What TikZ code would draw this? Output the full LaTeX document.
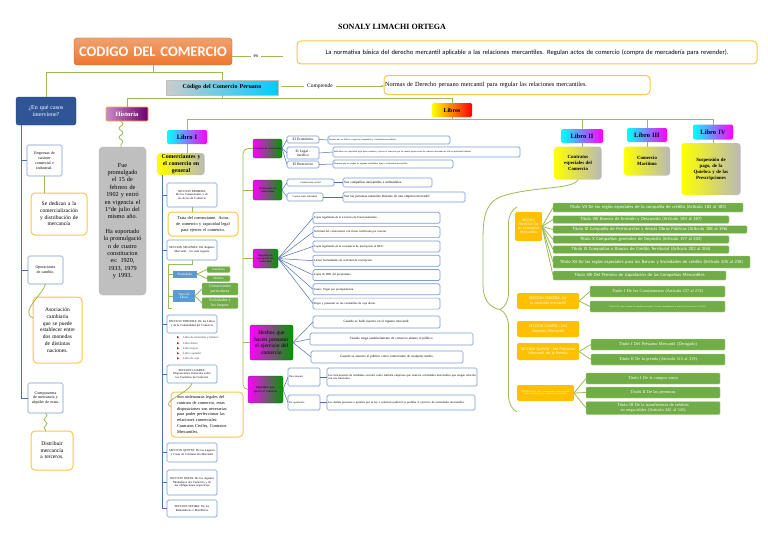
\documentclass[tikz,border=0pt]{standalone}
\usepackage{fontspec}
\setmainfont{Liberation Serif}
\newfontfamily\calib{Carlito}
\newfontfamily\symf{DejaVu Sans}
\usepackage{tikz}
\usetikzlibrary{arrows.meta,positioning,calc,decorations.pathmorphing,decorations.pathreplacing}

\definecolor{gline}{HTML}{9BBB59}
\definecolor{bline}{HTML}{4F6FB0}
\definecolor{bbord}{HTML}{7F9BD0}
\definecolor{ybord}{HTML}{F7C948}
\definecolor{gfill}{HTML}{70AD47}
\definecolor{ofill}{HTML}{FFC000}
\definecolor{bfill}{HTML}{5B9BD5}
\definecolor{navy}{HTML}{2F5597}
\definecolor{ccorg}{HTML}{EC7730}
\definecolor{bulred}{HTML}{C00000}
\definecolor{gbox}{HTML}{BFBFBF}

\newcommand\fz[2]{\fontsize{#1}{#2}\selectfont}
\hyphenpenalty=10000
\exhyphenpenalty=10000

\begin{document}
\begin{tikzpicture}[x=1pt,y=-1pt,>=Stealth,
  every node/.style={inner sep=1pt,outer sep=0pt,align=center},
  sz/.style 2 args={minimum width=#1,minimum height=#2,text width=\dimexpr#1 pt-2pt\relax},
  gl/.style={draw=gline,line width=0.8pt},
  bl/.style={draw=bline,line width=0.5pt},
  bbox/.style={draw=bbord,line width=0.7pt,rounded corners=1.5pt,fill=white,font=\fz{3}{3.6}},
  ybox/.style={draw=ybord,line width=1pt,rounded corners=4pt,fill=white},
  gbx/.style={fill=gfill,draw=gfill!60!white,line width=0.4pt,rounded corners=1pt,text=white,font=\calib\fz{4.6}{5.2}},
  obx/.style={fill=ofill,rounded corners=1.5pt,text=white,font=\calib\fz{3.6}{4.2}},
  mbx/.style={left color=magenta,middle color=white,right color=green!60!black,draw=green!40!black,line width=0.3pt,rounded corners=2pt,font=\fz{2.6}{3}},
  lbx/.style={left color=cyan,middle color=magenta!25,right color=magenta,rounded corners=1.5pt,font=\bfseries\fz{6.5}{7.5}},
  ygx/.style={left color=yellow,middle color=white!70!yellow,right color=gray!55,rounded corners=3pt,font=\bfseries\fz{5}{6}}]
  \path[use as bounding box,fill=white] (0,0) rectangle (768,543);

  \node[font=\bfseries\fz{8}{9}] (autor) at (392,27) {SONALY LIMACHI ORTEGA};
  \node[sz={158}{27},top color=ccorg!70!white,bottom color=ccorg,draw=ccorg!80!black,line width=0.3pt,rounded corners=3pt,text=white,font=\calib\bfseries\fz{14.5}{16}] (cc) at (153,51.5) {CODIGO DEL COMERCIO};
  \node[inner sep=3pt,font=\fz{5.5}{6.5}] (es) at (256,56) {es};
  \node[ybox,sz={460}{23},font=\calib\fz{6.5}{7.5}] (nb) at (527,52.5) {La normativa básica del derecho mercantil aplicable a las relaciones mercantiles. Regulan actos de comercio (compra de mercadería para revender).};
  \draw[gl] (cc.east |- es) -- (es);
  \draw[gl,shorten >=14pt] (es) -- (nb.west |- es);

  \node[sz={112}{15},left color=gray!40,middle color=white,right color=cyan!80!blue,draw=gray!50,line width=0.3pt,font=\bfseries\fz{6}{7}] (cp) at (222,87.5) {Código del Comercio Peruano};
  \node[inner sep=3pt,font=\fz{5.5}{6.5}] (comp) at (320,86) {Comprende};
  \node[ybox,sz={266}{19},font=\fz{6.3}{7.5},align=left] (nr) at (517,85) {Normas de Derecho peruano mercantil para regular las relaciones mercantiles.};
  \draw[gl,shorten <=3pt] (cp.east |- comp) -- (comp);
  \draw[gl,-{Stealth[length=3pt]}] (comp) -- (nr.west |- comp);

  \node[sz={60}{28},fill=navy,draw=navy!80!black,rounded corners=2.5pt,text=white,font=\fz{6}{7}] (eq) at (46,111) {¿En qué casos\\ interviene?};
  \draw[gl] (cc.south) -- ++(0,7) coordinate (cj) -| (cp.north);
  \draw[gl] (cj) -| (eq.north);

  \node[bbox,sz={35}{31},font=\fz{4}{4.8}] (em) at (44.5,160.5) {Empresas de\\ carácter\\ comercial e\\ industrial.};
  \node[ybox,sz={56}{42},font=\fz{5.5}{6.6}] (sd) at (59,214) {Se dedican a la\\ comercialización\\ y distribución de\\ mercancía};
  \node[bbox,sz={35}{28},font=\fz{4}{4.8}] (op) at (45.5,270) {Operaciones\\ de cambio.};
  \node[ybox,sz={49}{66},text width=38pt,font=\fz{5.5}{6.8}] (as) at (57.5,330) {Asociación cambiaria que se puede establecer entre dos monedas de distintas naciones.};
  \node[bbox,sz={35}{30},font=\fz{4}{4.8}] (cv) at (45.5,398) {Compraventa de mercancía y alquiler de estas.};
  \node[ybox,sz={42}{39},font=\fz{5.5}{6.6}] (di) at (52,450.5) {Distribuir\\ mercancía\\ a terceros.};
  \coordinate (ev) at ([xshift=-25pt]eq.south);
  \draw[bl,line width=0.9pt] (ev) |- (cv.west);
  \draw[bl,line width=0.9pt] (ev |- em.west) -- (em.west);
  \draw[bl,line width=0.9pt] (ev |- op.west) -- (op.west);
  \draw[gl] (em.south) -- (em.south |- sd.north);
  \draw[gl] (op.south) .. controls +(-2,10) and +(-14,-6) .. ([yshift=12pt]as.west);
  \draw[gl,decorate,decoration={snake,amplitude=1.5pt,segment length=8pt}] (cv.south) -- (cv.south |- di.north);

  \node[sz={42}{14},left color=violet!45,right color=violet!85!black,draw=orange!70,line width=0.6pt,rounded corners=1pt,text=white,font=\bfseries\fz{6.5}{7.5}] (hi) at (127,114) {Historia};
  \node[sz={40}{14},left color=yellow,middle color=orange!40!yellow,right color=red,rounded corners=1.5pt,font=\bfseries\fz{6}{7}] (lb) at (452,110) {Libros};
  \draw[gl] (cp.south) -- ++(0,3) coordinate (hj) -| (hi.north);
  \draw[gl] (hj) -| (lb.north);
  \node[sz={47}{148},text width=38pt,fill=gbox,draw=gray!60,rounded corners=4pt,font=\fz{6.2}{7.4}] (gb) at (122.5,221) {Fue promulgado el 15 de febrero de 1902 y entró en vigencia el 1°de julio del mismo año.\\[7pt] Ha soportado la promulgació n de cuatro constitucion es: 1920, 1933, 1979 y 1993.};
  \draw[gl,decorate,decoration={snake,amplitude=2pt,segment length=9pt}] ([xshift=-6pt]hi.south) -- ([xshift=-6pt]hi.south |- gb.north);

  \node[lbx,sz={40}{14}] (l1) at (187,137) {Libro I};
  \node[lbx,sz={42}{14}] (l2) at (582,136) {Libro II};
  \node[lbx,sz={40}{14}] (l3) at (647,135) {Libro III};
  \node[lbx,sz={40}{15}] (l4) at (713,132) {Libro IV};
  \draw[gl] (lb.south) -- ++(0,2) coordinate (lj) -| (l1.north);
  \foreach \l in {l2,l3,l4} \draw[gl] (lj) -| (\l.north);

  \node[ygx,sz={47}{22},font=\bfseries\fz{5.8}{6.8}] (c1) at (181,164) {Comerciantes y\\ el comercio en\\ general};
  \node[ygx,sz={47}{33},font=\bfseries\fz{4.8}{6}] (ct) at (578,163) {Contratos\\ especiales del\\ Comercio};
  \node[ygx,sz={46}{29},font=\bfseries\fz{4.8}{6}] (cm) at (647,161) {Comercio\\ Marítimo};
  \node[ygx,sz={59}{52},font=\bfseries\fz{4.8}{6}] (sq) at (711,169) {Suspensión de\\ pago, de la\\ Quiebra y de las\\ Prescripciones};
  \draw[gl] (l1) -- (l1 |- c1.north);
  \draw[gl] (l2) -- (l2 |- ct.north);
  \draw[gl] (l3) -- (l3 |- cm.north);
  \draw[gl] (l4) -- (l4 |- sq.north);

  \coordinate (va) at (162,175);
  \coordinate (vb) at (162,509);
  \draw[bl,line width=0.9pt] (va) -- (vb);
  \node[bbox,sz={50}{24}] (s1) at (192,195) {SECCION PRIMERA: De los Comerciantes y de los Actos de Comercio};
  \node[ybox,sz={70}{24},font=\fz{4.3}{6}] (tr) at (203,224) {Trata del comerciante. Actos\\ de comercio y capacidad legal\\ para ejercer el comercio.};
  \node[bbox,sz={50}{20}] (s2) at (192,250) {SECCION SEGUNDA: Del Registro Mercantil - Su vista registro};
  \node[bbox,sz={50}{18}] (s3) at (192,324) {SECCION TERCERA: De los Libros y de la Contabilidad del Comercio};
  \node[bbox,sz={50}{18}] (s4) at (192,374) {SECCION CUARTA: Disposiciones Generales sobre los Contratos de Comercio};
  \node[ybox,sz={72}{45},text width=60pt,font=\fz{4.3}{5.8},align=left] (so) at (207,414.5) {Son ordenanzas legales del\\ contrato de comercio, estas\\ disposiciones son necesarias\\ para poder perfeccionar las\\ relaciones comerciales:\\ Contratos Civiles, Contratos\\ Mercantiles.};
  \node[bbox,sz={50}{19}] (s5) at (192,452.5) {SECCION QUINTA: De los Lugares y Casas de Contratación Mercantil};
  \node[bbox,sz={50}{25}] (s6) at (192,482.5) {SECCION SEXTA: De los Agentes Mediadores del Comercio y de sus Obligaciones respectivas};
  \node[bbox,sz={50}{17}] (s7) at (192,508.5) {SECCION SETIMA: De los Rematadores o Martilleros};
  \foreach \s in {s1,s2,s3,s4,s5,s6,s7} \draw[bl,line width=0.9pt] (va |- \s.west) -- (\s.west);
  \draw[gl] (s1.south) -- (s1.south |- tr.north);
  \draw[gl] (s4.south) .. controls +(0,8) and +(-12,-4) .. ([yshift=8pt]so.west);

  \node[fill=bfill,sz={24}{7},text=white,font=\fz{3.2}{3.8}] (fi) at (185,274) {Finalidades};
  \node[fill=bfill,sz={22}{12},text=white,font=\fz{3.2}{3.8}] (tl) at (184,296) {Tipos de\\ Libros};
  \node[gbx,sz={23}{6},font=\fz{3.2}{3.8}] (inm) at (218.5,269.5) {Inmediata};
  \node[gbx,sz={23}{6},font=\fz{3.2}{3.8}] (med) at (218.5,278.5) {Mediata};
  \node[gbx,sz={36}{12},font=\fz{4}{4.6}] (cpa) at (220,289) {Comerciantes\\ particulares};
  \node[gbx,sz={36}{11},font=\fz{4}{4.6}] (syb) at (220,303) {Sociedades y\\ los buques};
  \coordinate (fb) at (168,264);
  \draw[gl] (s2.south) |- (fb) |- (fi.west);
  \draw[gl] (fb) |- (tl.west);
  \draw[gl] (fb) -- (fb |- syb.south) -- ++(4,0);
  \draw[gl] (fi.east) -- (inm.west);
  \draw[gl] (fi.east) -- (med.west);
  \draw[gl] (tl.east) -- (cpa.west);
  \draw[gl] (tl.east) -- (syb.west);

  \foreach \t [count=\i] in {Libro de inventario y balance,Libro diario,Libro mayor,Libro copiador,Libro de caja}
    \node[anchor=west,font=\fz{3}{3.5},text=black!75] (li\i) at (176,{332.8+5.2*\i}) {{\color{bulred}\symf\fz{3}{3.5}▶}\hspace{4pt}\t};

  \node[mbx,sz={29}{19}] (m1) at (267.5,148.5) {Concepto de comerciante};
  \node[mbx,sz={29}{20}] (m2) at (267.5,190) {Clasificación de comerciantes};
  \node[mbx,sz={25}{19}] (m3) at (265.5,258.5) {Requisitos de inscripción del comerciante};
  \node[mbx,sz={43}{35},font=\fz{5.5}{6.5}] (m4) at (271.5,342.5) {Hechos que\\ hacen presumir\\ el ejercicio del\\ comercio};
  \node[mbx,sz={35}{27},font=\fz{3}{3.6}] (m5) at (265.5,389.5) {Impedidos para ejercer el comercio};
  \coordinate (ga) at (243,148.5);
  \draw[gl,rounded corners=5pt] (m1.west) -- (ga) -- (ga |- m5.west) -- (m5.west);
  \foreach \m in {m2,m3,m4} \draw[gl] (ga |- \m.west) -- (\m.west);

  \node[bbox,sz={32}{7},font=\fz{3.6}{4.2}] (e1) at (303,139.5) {El Económico};
  \node[bbox,sz={32}{12},font=\fz{3.6}{4.2}] (e2) at (303,153) {El Legal -\\ Jurídico};
  \node[bbox,sz={32}{7},font=\fz{3.6}{4.2}] (e3) at (303,164.5) {El Restrictivo};
  \node[bbox,sz={122}{8},font=\fz{2.3}{2.8},align=left] (d1) at (389,140) {Persona que se dedica a negocios comprando y vendiendo mercaderías};
  \node[bbox,sz={187}{10},font=\fz{2.3}{2.8},align=left] (d2) at (426.5,152) {Individuo con capacidad legal para contratar y ejercer el comercio por su cuenta propia actos de comercio haciendo de ello su profesión habitual};
  \node[bbox,sz={120}{8},font=\fz{2.3}{2.8},align=left] (d3) at (393,164) {Personas que se ocupan de algunas actividades fijas y ocasionales mercantiles};
  \foreach \e in {e1,e2,e3} \draw[bl] (m1.east) -- (\e.west);
  \draw[bl] (e1.east) -- (d1.west);
  \draw[bl] (e2.east) -- (d2.west);
  \draw[bl] (e3.east) -- (d3.west);

  \node[bbox,sz={47}{7},font=\fz{2.6}{3}] (k1) at (310.5,182.5) {Comerciante social};
  \node[bbox,sz={36}{8},font=\fz{2.6}{3}] (k2) at (305,197) {Comerciante individual};
  \node[bbox,sz={89}{9},font=\fz{3.4}{4},align=left] (kd1) at (387.5,182.5) {Son compañías mercantiles e industriales.};
  \node[bbox,sz={122}{10},font=\fz{3.4}{4},align=left] (kd2) at (404,197) {Son las personas naturales titulares de una empresa mercantil};
  \draw[bl] (m2.east) -- (k1.west);
  \draw[bl] (m2.east) -- (k2.west);
  \draw[bl] (k1.east) -- (kd1.west);
  \draw[bl] (k2.east) -- (kd2.west);

  \foreach \t [count=\i] in {Copia legalizada de la Licencia de Funcionamiento.,Solicitud del comerciante con firma certificada por notario.,Copia legalizada de la constancia de inscripción al RUC.,Llenar formalidades de solicitud de inscripción.,Copia de DNI del presentante.,Costo: Pagar por preliquidación.,Pagar y presentar en las ventanillas de caja diario.} {
    \node[bbox,sz={127}{11},align=left] (r\i) at (376.5,{203.5+14.3*\i}) {\t};
    \draw[bl] (m3.east) -- (r\i.west);
  }

  \node[bbox,sz={127}{12},font=\fz{3.3}{4}] (h1) at (376.5,322) {Cuando se halle inscrito en el registro mercantil.};
  \node[bbox,sz={163}{12},font=\fz{3.3}{4}] (h2) at (391.5,339) {Cuando tenga establecimiento de comercio abierto al público.};
  \node[bbox,sz={152}{12},font=\fz{3.3}{4}] (h3) at (387,357) {Cuando se anuncie al público como comerciante de cualquier medio.};
  \foreach \h in {h1,h2,h3} \draw[bl] (m4.east) -- (\h.west);

  \node[bbox,sz={32}{18},font=\fz{2.6}{3},align=left] (p1) at (304,377) {Directamente};
  \node[bbox,sz={32}{15},font=\fz{2.6}{3},align=left] (p2) at (304,402.5) {Por apoderado};
  \node[bbox,sz={150}{18},font=\fz{3}{3.5},align=left] (pd1) at (402,377) {Los funcionarios de entidades sociales como también empresas que realicen actividades mercantiles que tengan relación con sus funciones.};
  \node[bbox,sz={148}{15},font=\fz{3}{3.5},align=left] (pd2) at (401,402.5) {Los demás personas a quienes por la ley o sentencia judicial se prohíba el ejercicio de actividades mercantiles.};
  \draw[bl] (m5.east) -- (p1.west);
  \draw[bl] (m5.east) -- (p2.west);
  \draw[bl] (p1.east) -- (pd1.west);
  \draw[bl] (p2.east) -- (pd2.west);

  \coordinate (bt) at (517,207);
  \coordinate (bz) at (517,412);
  \coordinate (tip) at (500,309.5);
  \draw[gl,decorate,decoration={brace,amplitude=17pt}] (bz) -- (bt);
  \draw[gl] (ct.south) .. controls (574,190) and (530,186) .. (500,197) .. controls (482,205) and (483,225) .. (483,250) -- (483,285) .. controls (483,300) and (490,308) .. (tip);

  \node[obx,sz={27}{29}] (o1) at (528.5,226.5) {SECCION PRIMERA: De las Compañías Mercantiles};
  \foreach \y/\w/\h/\t [count=\i] in {207.5/190/9/Título VII De las reglas especiales de la compañía de crédito (Artículo 182 al 183),219.5/176/7.5/Título VIII Bancos de Emisión y Descuento (Artículo 184 al 187),229.5/194/7.5/Título IX Compañía de Ferrocarriles y demás Obras Públicas (Artículo 188 al 196),239.5/176/7.5/Título X Compañías generales de Depósito (Artículo 197 al 202),249.5/176/7.5/Título XI Compañías o Bancos de Crédito Territorial (Artículo 203 al 204),262/197/12/Título XII De las reglas especiales para los Bancos y Sociedades de crédito (Artículo 205 al 218),275.5/173/9/Título XIII Del Término de Liquidación de las Compañías Mercantiles} {
    \node[gbx,sz={\w}{\h}] (g\i) at (553+\w/2,\y) {\t};
    \draw[gl] (o1.east) -- (g\i.west);
  }

  \node[obx,sz={62}{16},font=\calib\fz{4}{4.6}] (o3) at (548,301) {SECCION TERCERA: De la comisión mercantil};
  \node[obx,sz={62}{16},font=\calib\fz{4}{4.6}] (o4) at (548,329) {SECCION CUARTA : Del Depósito Mercantil};
  \node[obx,sz={62}{17},font=\calib\fz{4}{4.6}] (o5) at (548,351.5) {SECCION QUINTA : Del Préstamo Mercantil, de la Prenda};
  \node[obx,sz={57}{16},font=\calib\fz{2.2}{2.7}] (o6) at (545.5,393) {SECCION SEXTA : De la compraventa, de la permuta y de la transferencia de créditos no endosables};
  \node[gbx,sz={135}{11},font=\fz{4.3}{5}] (t31) at (657.5,291.5) {Título I De los Comisionistas (Artículo 237 al 274)};
  \node[gbx,sz={135}{11},font=\fz{2.2}{2.7}] (t32) at (657.5,306.5) {Título II De otras formas del mandato mercantil: factores, dependientes y mancebos (Artículo 275 al 295)};
  \node[gbx,sz={134}{11},font=\fz{4.3}{5}] (t51) at (658,344.5) {Título I Del Préstamo Mercantil (Derogado)};
  \node[gbx,sz={134}{11},font=\fz{4.3}{5}] (t52) at (658,359.5) {Título II De la prenda (Artículo 315 al 319)};
  \node[gbx,sz={134}{11},font=\fz{4.3}{5}] (t61) at (653,378.5) {Título I De la compra venta};
  \node[gbx,sz={134}{11},font=\fz{4.3}{5}] (t62) at (653,392.5) {Título II De las permutas};
  \node[gbx,sz={134}{13},font=\fz{4.3}{4.8}] (t63) at (653,408) {Título III De la transferencia de créditos no negociables (Artículo 342 al 343)};
  \draw[gl] (o3.east) -- (t31.west);
  \draw[gl] (o3.east) -- (t32.west);
  \draw[gl] (o5.east) -- (t51.west);
  \draw[gl] (o5.east) -- (t52.west);
  \foreach \t in {t61,t62,t63} \draw[gl] (o6.east) -- (\t.west);
\end{tikzpicture}
\end{document}
